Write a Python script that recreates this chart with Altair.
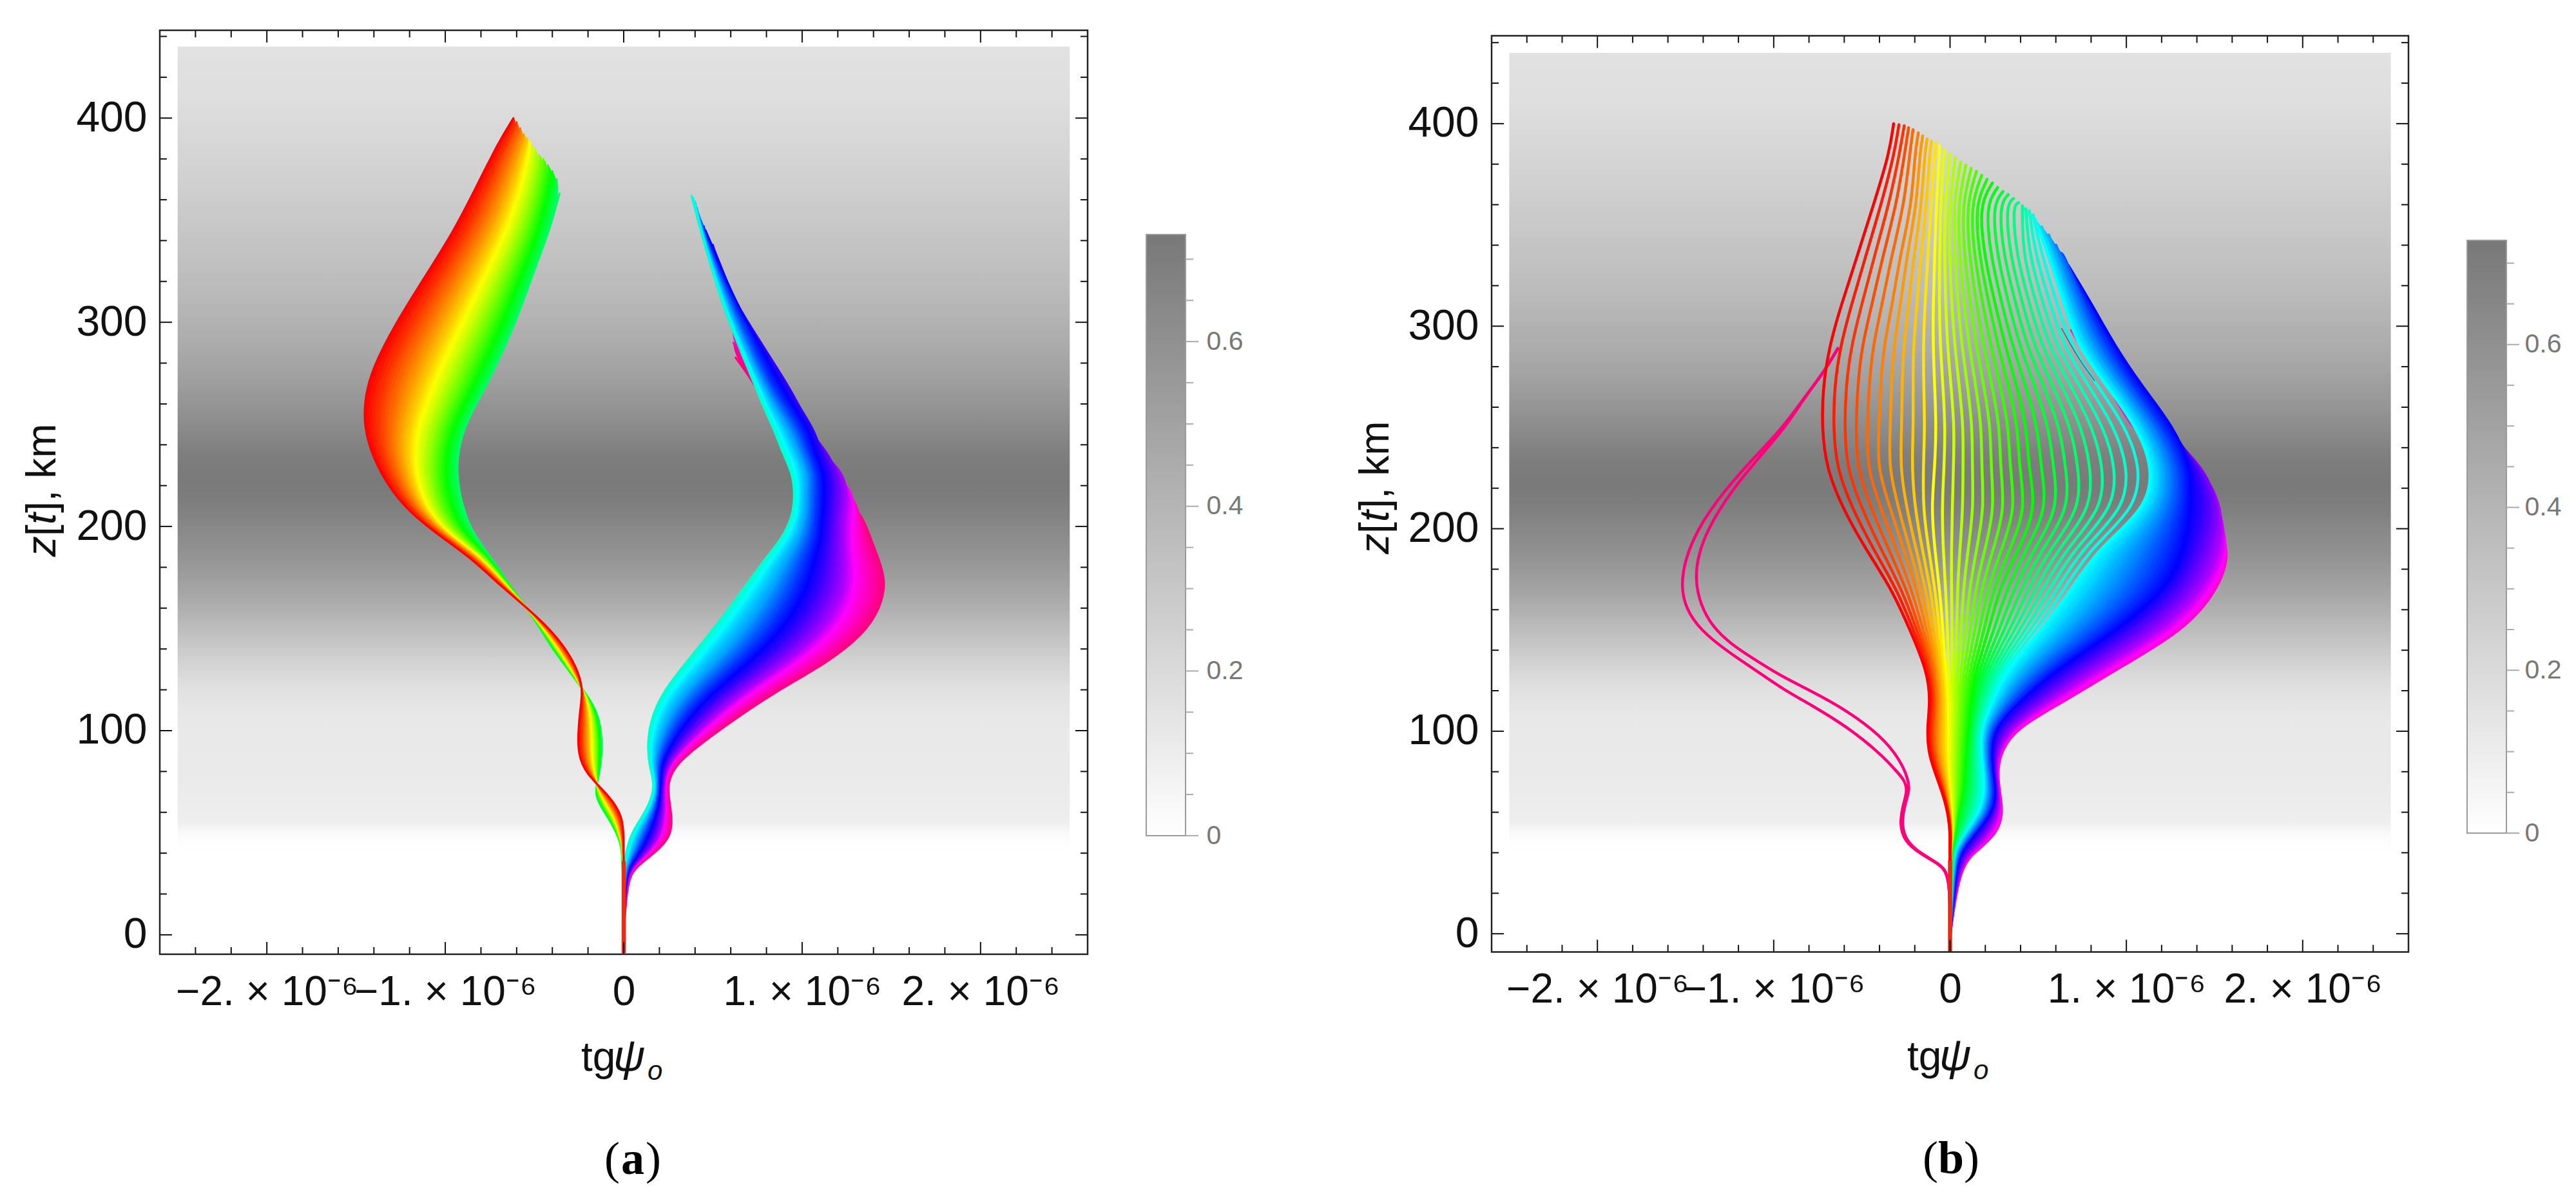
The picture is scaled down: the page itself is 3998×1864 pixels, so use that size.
import colorsys
import numpy as np
import pandas as pd
import altair as alt

# ---------- background density ----------
BG_Z = list(range(40, 435, 5))
BG_D = [.002,.01,.035,.085,.10,.105,.11,.112,.114,.115,.117,.118,.12,.127,.137,.15,.17,.195,.225,.26,
        .295,.335,.37,.405,.44,.475,.505,.535,.565,.59,.61,.63,.655,.68,.70,.715,.72,.715,.705,.685,
        .66,.635,.61,.585,.56,.535,.515,.49,.475,.455,.44,.425,.405,.395,.38,.365,.35,.34,.33,.32,
        .31,.295,.285,.275,.265,.255,.245,.235,.225,.215,.205,.195,.19,.18,.175,.17,.165,.16,.155]

# ---------- panel (a), left family: hue ascending, one row per altitude ----------
AL_HUE = [.0,.033,.067,.1,.133,.167,.2,.233,.267,.3,.333,.367,.40]
AL_Z = [0,40,47,58,68,79,89,100,110,121,131,142,155,170,185,197,210,226,242,255,268,281,301,321,345,367,388]
AL_ROWS = [
 [0]*13,
 [0,0,0,0,0,0,-.001,-.001,-.002,-.003,-.003,-.004,-.005],
 [0,-.003,-.006,-.008,-.011,-.013,-.014,-.016,-.018,-.019,-.02,-.022,-.023],
 [-.005,-.016,-.026,-.035,-.044,-.051,-.058,-.064,-.07,-.075,-.08,-.085,-.089],
 [-.077,-.089,-.101,-.111,-.121,-.129,-.137,-.144,-.15,-.156,-.162,-.167,-.172],
 [-.216,-.205,-.196,-.187,-.179,-.171,-.165,-.159,-.154,-.149,-.144,-.139,-.135],
 [-.257,-.239,-.223,-.208,-.194,-.182,-.171,-.162,-.152,-.144,-.136,-.128,-.121],
 [-.255,-.238,-.223,-.208,-.195,-.184,-.173,-.164,-.155,-.147,-.139,-.132,-.125],
 [-.245,-.233,-.221,-.21,-.201,-.192,-.185,-.178,-.171,-.165,-.16,-.154,-.149],
 [-.227,-.228,-.229,-.23,-.231,-.231,-.232,-.233,-.233,-.234,-.234,-.235,-.235],
 [-.264,-.272,-.279,-.285,-.291,-.296,-.301,-.305,-.309,-.312,-.316,-.319,-.322],
 [-.336,-.346,-.356,-.364,-.372,-.379,-.386,-.391,-.397,-.402,-.406,-.411,-.415],
 [-.47,-.474,-.478,-.481,-.484,-.487,-.489,-.491,-.493,-.495,-.497,-.499,-.50],
 [-.68,-.674,-.668,-.662,-.657,-.653,-.649,-.645,-.642,-.639,-.636,-.633,-.63],
 [-.86,-.845,-.831,-.819,-.807,-.797,-.788,-.78,-.771,-.765,-.758,-.751,-.745],
 [-1.06,-1.047,-1.035,-1.022,-1.01,-.997,-.98,-.961,-.942,-.921,-.898,-.875,-.85],
 [-1.24,-1.213,-1.186,-1.16,-1.136,-1.113,-1.086,-1.059,-1.032,-1.002,-.972,-.939,-.905],
 [-1.365,-1.323,-1.28,-1.242,-1.204,-1.17,-1.136,-1.101,-1.068,-1.038,-1.004,-.974,-.94],
 [-1.44,-1.378,-1.32,-1.268,-1.216,-1.17,-1.128,-1.086,-1.05,-1.014,-.982,-.951,-.92],
 [-1.458,-1.38,-1.308,-1.243,-1.183,-1.129,-1.081,-1.039,-.998,-.962,-.926,-.89,-.86],
 [-1.44,-1.354,-1.274,-1.201,-1.134,-1.074,-1.021,-.975,-.928,-.888,-.848,-.808,-.775],
 [-1.389,-1.3,-1.218,-1.142,-1.073,-1.012,-.957,-.909,-.861,-.82,-.778,-.737,-.703],
 [-1.268,-1.181,-1.101,-1.028,-.961,-.901,-.847,-.80,-.754,-.714,-.673,-.633,-.60],
 [-1.124,-1.045,-.973,-.907,-.846,-.792,-.743,-.701,-.659,-.623,-.586,-.55,-.52],
 [-.95,-.88,-.816,-.757,-.704,-.656,-.613,-.576,-.538,-.506,-.474,-.442,-.415],
 [-.823,-.765,-.71,-.66,-.616,-.575,-.54,-.508,-.477,-.45,-.42,-.395],
 [-.703,-.66,-.62,-.58,-.545],
]
AL_END_X = [-.618,-.60,-.58,-.56,-.54,-.523,-.50,-.475,-.45,-.425,-.40,-.375,-.36]
AL_END_Z = [400,398,395,392,390,388,385,382,380,377,374,370,363]

# ---------- panel (a), right family ----------
AR_HUE = [.47,.50,.53,.56,.60,.64,.67,.70,.74,.78,.84,.88,.92]
AR_Z = [0,28,34,41,48,55,63,73,82,91,104,118,133,147,160,173,184,194,205,215,226,236,247,257,268,283,297,310,331,345]
AR_ROWS = [
 [0]*13,
 [0,.001,.002,.004,.005,.007,.008,.01,.012,.014,.016,.018,.02],
 [0,.004,.01,.016,.022,.03,.036,.042,.05,.057,.064,.072,.08],
 [.015,.025,.036,.05,.063,.079,.093,.107,.122,.138,.153,.171,.188],
 [.035,.049,.062,.08,.098,.118,.136,.154,.175,.195,.215,.238,.26],
 [.08,.091,.103,.118,.133,.151,.166,.181,.198,.216,.233,.252,.271],
 [.14,.147,.155,.164,.174,.185,.195,.205,.216,.227,.238,.25,.262],
 [.176,.18,.184,.189,.194,.2,.206,.211,.217,.223,.229,.235,.242],
 [.145,.153,.161,.172,.183,.195,.206,.217,.229,.241,.253,.267,.28],
 [.132,.148,.163,.184,.205,.229,.249,.27,.294,.317,.341,.367,.393],
 [.145,.172,.199,.235,.271,.312,.348,.384,.425,.465,.506,.551,.596],
 [.21,.247,.284,.334,.384,.439,.489,.539,.594,.65,.706,.768,.83],
 [.345,.393,.44,.504,.567,.638,.702,.765,.837,.908,.979,1.059,1.138],
 [.476,.528,.58,.649,.719,.797,.866,.936,1.014,1.092,1.17,1.256,1.343],
 [.59,.641,.692,.76,.828,.905,.973,1.041,1.117,1.194,1.27,1.355,1.44],
 [.70,.746,.791,.852,.913,.981,1.042,1.103,1.171,1.24,1.308,1.384,1.47],
 [.789,.827,.865,.915,.966,1.022,1.073,1.123,1.18,1.237,1.294,1.357,1.43],
 [.886,.915,.945,.984,1.023,1.067,1.106,1.145,1.189,1.233,1.277,1.33,1.385],
 [.946,.968,.99,1.019,1.048,1.081,1.115,1.15,1.19,1.235,1.29,1.325,1.34],
 [.958,.975,.995,1.02,1.05,1.085,1.125,1.165,1.21,1.255,1.295,1.29,1.24],
 [.946,.97,1.0,1.03,1.06,1.09,1.125,1.16,1.2,1.235,1.2,1.12,1.05],
 [.89,.92,.95,.98,1.01,1.04,1.075,1.11,1.145,1.12,1.06,.99,.93],
 [.845,.87,.895,.93,.965,1.0,1.04,1.07,1.04,.98,.93,.88,.85],
 [.79,.81,.83,.86,.89,.93,.97,.995,.96,.92,.87,.83,.79],
 [.74,.755,.77,.79,.815,.845,.89,.93,.90,.87,.83,.79,.75],
 [.668,.68,.69,.71,.73,.76,.80,.82,.79,.76,.72,.675],
 [.606,.615,.625,.64,.66,.69,.71,.72,.70,.65,.612],
 [.549,.556,.565,.578,.595,.612,.63,.625,.622],
 [.476,.48,.485,.492,.50,.51,.524,.52],
 [.43,.432,.436,.44,.445,.45],
]
AR_END_X = [.38,.39,.40,.41,.42,.45,.459,.50,.62,.63,.61,.615,.627]
AR_END_Z = [362,361,359,356,353,347,345,338,312,305,297.5,290,282.7]

# ---------- panel (b) fan ----------
B_HUE = [.0,.017,.033,.05,.067,.083,.1,.117,.133,.15,.167,.183,.2,.217,.233,.25,.267,.283,.3,.317,.333,
         .35,.367,.383,.4,.417,.433,.45,.467,.483,
         .5,.528,.556,.584,.612,.64,.668,.696,.724,.752,.78,.808,.836,.864]
B_Z = [0,34,42,50,60,70,80,90,102,115,130,150,170,190,210,230,250,270,290,310,335,360,385]
B_ROWS = [
 [0]*44,
 [0]*20+[.005,.005,.006,.006,.007,.007,.008,.008,.009,.009,.01,.013,.017,.02,.023,.027,.03,.034,.038,.041,.045,.048,.05,.053],
 [0,0,0,0,0,0,0,0,0,0,0,.001,.001,.002,.002,.003,.003,.004,.004,.005,.005,.007,.009,.011,.013,.015,.017,.019,.021,.023,
  .025,.033,.041,.049,.056,.064,.072,.088,.105,.121,.137,.146,.156,.165],
 [.001,.002,.003,.004,.005,.005,.006,.007,.008,.009,.01,.012,.013,.015,.016,.018,.019,.021,.022,.024,.025,.031,.036,.042,.047,.053,.059,.064,.07,.075,
  .081,.092,.103,.114,.124,.135,.146,.165,.184,.202,.221,.237,.252,.268],
 [-.012,-.011,-.01,-.009,-.008,-.007,-.004,-.002,.001,.003,.006,.01,.014,.017,.021,.025,.029,.033,.036,.04,.044,.056,.068,.08,.092,.105,.117,.129,.141,.153,
  .165,.177,.19,.202,.214,.227,.239,.249,.258,.268,.277,.285,.292,.30],
 [-.044,-.041,-.037,-.034,-.03,-.027,-.022,-.017,-.013,-.008,-.003,.005,.012,.02,.027,.035,.042,.05,.057,.065,.072,.084,.096,.108,.12,.133,.145,.157,.169,.181,
  .193,.204,.215,.225,.236,.247,.258,.262,.265,.269,.273,.275,.278,.28],
 [-.087,-.08,-.073,-.067,-.06,-.053,-.045,-.037,-.028,-.02,-.012,-.003,.007,.016,.025,.035,.044,.053,.062,.072,.081,.092,.102,.113,.123,.134,.145,.155,.166,.176,
  .187,.196,.204,.213,.222,.23,.239,.244,.249,.253,.258,.261,.265,.268],
 [-.124,-.115,-.106,-.096,-.087,-.078,-.065,-.052,-.038,-.025,-.012,-.002,.008,.019,.029,.039,.049,.059,.07,.08,.09,.098,.107,.115,.124,.132,.14,.149,.157,.166,
  .174,.183,.193,.202,.211,.221,.23,.24,.249,.259,.268,.274,.28,.286],
 [-.13,-.12,-.109,-.099,-.088,-.078,-.065,-.052,-.038,-.025,-.012,0,.011,.022,.033,.044,.056,.067,.078,.089,.10,.107,.115,.122,.13,.137,.144,.152,.159,.167,
  .174,.187,.199,.212,.224,.237,.249,.272,.296,.319,.342,.354,.367,.379],
 [-.111,-.102,-.094,-.085,-.077,-.068,-.057,-.046,-.034,-.023,-.012,.001,.014,.027,.04,.053,.066,.079,.092,.105,.118,.13,.142,.154,.166,.179,.191,.203,.215,.227,
  .239,.266,.292,.319,.345,.372,.398,.438,.478,.517,.557,.588,.619,.65],
 [-.13,-.121,-.111,-.102,-.092,-.083,-.072,-.061,-.049,-.038,-.027,-.01,.008,.025,.042,.06,.077,.094,.112,.129,.146,.163,.18,.196,.213,.23,.247,.264,.28,.297,
  .314,.361,.407,.454,.501,.547,.594,.65,.706,.762,.818,.855,.893,.93],
 [-.227,-.208,-.189,-.171,-.152,-.133,-.114,-.096,-.077,-.059,-.04,-.014,.012,.038,.064,.09,.117,.143,.169,.195,.221,.251,.281,.311,.341,.37,.4,.43,.46,.49,
  .52,.591,.663,.734,.805,.877,.948,1.014,1.079,1.145,1.21,1.25,1.291,1.331],
 [-.329,-.301,-.273,-.246,-.218,-.19,-.164,-.138,-.111,-.085,-.059,-.025,.008,.042,.075,.109,.143,.176,.21,.243,.277,.318,.359,.4,.441,.482,.523,.564,.605,.646,
  .687,.777,.867,.958,1.048,1.138,1.228,1.279,1.33,1.382,1.433,1.461,1.489,1.52],
 [-.479,-.436,-.393,-.35,-.307,-.264,-.229,-.193,-.158,-.122,-.087,-.039,.008,.056,.103,.151,.199,.246,.294,.341,.389,.434,.479,.524,.568,.613,.658,.703,.747,.792,
  .837,.919,1.002,1.084,1.166,1.249,1.331,1.38,1.429,1.48,1.53,1.565,1.59,1.60],
 [-.609,-.555,-.501,-.447,-.393,-.339,-.292,-.246,-.199,-.153,-.106,-.046,.013,.073,.133,.193,.252,.312,.372,.431,.491,.553,.616,.678,.741,.803,.866,.928,.991,1.053,
  1.116,1.156,1.197,1.237,1.278,1.318,1.365,1.44,1.49,1.53,1.55,1.54,1.51,1.46],
 [-.702,-.644,-.586,-.529,-.471,-.413,-.348,-.283,-.217,-.152,-.087,-.034,.019,.073,.126,.179,.232,.285,.339,.392,.445,.516,.587,.657,.728,.799,.87,.941,1.011,1.082,
  1.153,1.189,1.225,1.261,1.296,1.332,1.368,1.40,1.425,1.445,1.43,1.39,1.33,1.27],
 [-.727,-.662,-.598,-.533,-.469,-.404,-.339,-.274,-.208,-.143,-.078,-.027,.025,.076,.127,.179,.23,.282,.333,.385,.436,.498,.561,.623,.686,.748,.81,.873,.935,.998,
  1.06,1.093,1.125,1.158,1.191,1.223,1.27,1.25,1.225,1.20,1.172,1.12,1.07,1.023],
 [-.721,-.656,-.591,-.525,-.46,-.395,-.333,-.272,-.21,-.149,-.087,-.04,.006,.053,.1,.147,.193,.24,.287,.333,.38,.431,.483,.534,.585,.637,.688,.739,.79,.842,
  .893,.924,.955,.986,1.017,1.048,1.09,1.05,1.02,.995,.967,.95,.93,.91],
 [-.685,-.623,-.561,-.5,-.438,-.376,-.32,-.264,-.208,-.152,-.096,-.055,-.014,.027,.068,.109,.15,.191,.232,.273,.314,.355,.396,.437,.478,.52,.561,.602,.643,.684,
  .725,.76,.795,.83,.865,.90,.935,.91,.88,.85,.81,.78,.76,.74],
 [-.619,-.561,-.503,-.445,-.387,-.329,-.282,-.236,-.189,-.143,-.096,-.061,-.025,.01,.046,.081,.116,.152,.187,.223,.258,.297,.336,.376,.415,.454,.493,.532,.572,.611,
  .65,.677,.703,.73,.756,.783,.809,.78,.75,.72],
 [-.525,-.477,-.428,-.38,-.331,-.283,-.244,-.205,-.165,-.126,-.087,-.059,-.031,-.003,.025,.053,.081,.109,.137,.165,.193,.229,.266,.302,.339,.375,.411,.448,.484,.521,
  .557,.58,.603,.626,.648],
 [-.434,-.391,-.347,-.304,-.26,-.217,-.189,-.161,-.134,-.106,-.078,-.054,-.03,-.005,.019,.044,.068,.092,.116,.141,.165,.202,.24,.278,.316,.355],
 [-.345,-.316,-.287,-.258,-.229,-.20,-.172,-.144,-.116,-.088,-.059,-.035],
]
B_END_X = [-.32,-.29,-.26,-.235,-.21,-.18,-.155,-.13,-.105,-.08,-.059,-.03,0,.03,.06,.09,.12,.15,.18,.21,.24,
           .27,.30,.33,.36,.39,.41,.43,.45,.47,.482,.52,.56,.60,.63,.65,.67,.70,.72,.72,.70,.70,.695,.69]
B_END_Z = [400,399.5,399,398,397,395.5,394,392.5,391.5,390.5,389,387,385,383,381,379.5,378,376.5,374.5,372.5,370.7,
           368.5,366.5,365,363,361,359.5,358,357,355,353,349,345,340,336,333,330,325,318,312,308,304,301,298]

# the two pink rays of panel (b)
PINK_HUE = .92
P1_Z = [0,29,34.3,39.5,45.9,53.8,62.9,70.7,76,80,89,102,112,121,130,150,171,200,226,249,263,278,289]
P1_X = [0,0,-.059,-.171,-.26,-.285,-.27,-.24,-.26,-.301,-.395,-.581,-.767,-.954,-1.098,-1.447,-1.553,-1.447,-1.214,-.954,-.842,-.71,-.637]
P2_Z = [0,29,34.3,39.5,45.9,53.8,62.9,70.7,76,86,98,110,119,127,136,150,175,200,226,249,263,278,289]
P2_X = [0,0,-.055,-.165,-.25,-.275,-.26,-.23,-.236,-.283,-.395,-.581,-.767,-.954,-1.12,-1.363,-1.47,-1.386,-1.18,-.94,-.84,-.71,-.637]

# the thin dark ray seen inside panel (b)
FAINT_Z = [273,285,299]
FAINT_X = [.82,.72,.632]

# the shared red stem at the bottom of each panel
STEM_Z = [-9,36]
STEM_X = [0,0]

# axis ticks
X_MAJOR = [-2,-1,0,1,2]
X_MINOR = [-2.4,-2.2,-1.8,-1.6,-1.4,-1.2,-.8,-.6,-.4,-.2,.2,.4,.6,.8,1.2,1.4,1.6,1.8,2.2,2.4]
Y_MAJOR = [0,100,200,300,400]
Y_MINOR = [20,40,60,80,120,140,160,180,220,240,260,280,320,340,360,380,420,440]
CB_MAJOR = [0,.2,.4,.6]
CB_MINOR = [.05,.1,.15,.25,.3,.35,.45,.5,.55,.65,.7]

FONT = "Liberation Sans"
SERIF = "Liberation Serif"
CURVE = "basis"
SHADES = 4  # colour steps of the fill between two neighbouring curves


def hex_of(h):
    r, g, b = colorsys.hsv_to_rgb(h, 1, 1)
    return "#%02x%02x%02x" % (round(r * 255), round(g * 255), round(b * 255))


def gray_of(d):
    g = round(255 - d / .73 * (255 - 120))
    return "#%02x%02x%02x" % (g, g, g)


def family(levels, rows, hues, end_x, end_z, tag):
    out = []
    for i, h in enumerate(hues):
        zs = [z for z, r in zip(levels, rows) if len(r) > i]
        xs = [r[i] for r in rows if len(r) > i]
        zs.append(end_z[i])
        xs.append(end_x[i])
        out.append((f"{tag}{i}", h, zs, xs))
    return out


def line_frame(curves):
    recs = []
    for name, h, zs, xs in curves:
        for p, (z, x) in enumerate(zip(zs, xs)):
            recs.append({"curve": name, "c": hex_of(h), "z": z, "x": x, "p": p})
    return pd.DataFrame(recs)


def band_frame(c0, c1):
    """colour shading of the gap between two neighbouring curves"""
    n0, h0, z0, x0 = c0
    n1, h1, z1, x1 = c1
    low, high = min(z0[-1], z1[-1]), max(z0[-1], z1[-1])
    zs = [z for z in sorted(set(z0) | set(z1)) if z <= low]
    a = list(np.interp(zs, z0, x0))
    b = list(np.interp(zs, z1, x1))
    if high > low:  # taper to the end of the longer curve
        tip = x0[-1] if z0[-1] > z1[-1] else x1[-1]
        zs.append(high)
        a.append(tip)
        b.append(tip)
    recs = []
    for k in range(SHADES):
        t0, t1 = k / SHADES, (k + 1) / SHADES
        col = hex_of(h0 + (h1 - h0) * (t0 + t1) / 2)
        for z, u, v in zip(zs, a, b):
            recs.append({"curve": f"{n0}-{k}", "c": col, "z": z,
                         "x": float(u + (v - u) * t0), "x1": float(u + (v - u) * t1)})
    return pd.DataFrame(recs)


def txt(label, x, y, size, font=FONT, style="normal", weight="normal", align="left", angle=0, color="#111111"):
    return alt.Chart(pd.DataFrame({"t": [label]})).mark_text(
        font=font, fontSize=size, fontStyle=style, fontWeight=weight, align=align,
        baseline="alphabetic", angle=angle, color=color,
    ).encode(text="t:N", x=alt.value(x), y=alt.value(y))


def panel(W, H, top, ydom, groups, sw, pieces, overlay=None):
    xs = alt.Scale(domain=[-2.6, 2.6], nice=False, zero=False)
    ys = alt.Scale(domain=ydom, nice=False, zero=False, range=[H + top, top])
    ax_x = alt.Axis(values=X_MAJOR, tickSize=0, domain=False, grid=False, labelFont=FONT, labelFontSize=64,
                    labelColor="#111111", labelPadding=27, labelOverlap=False, labelFlush=False, labelLimit=600,
                    labelExpr="datum.value==0 ? '0' : (datum.value<0 ? '\u2212' : '') + abs(datum.value) + '. \u00d7 10\u207b\u2076'")
    ax_y = alt.Axis(values=Y_MAJOR, tickSize=0, domain=False, grid=False, labelFont=FONT, labelFontSize=66,
                    labelColor="#111111", labelPadding=20, labelOverlap=False, labelFlush=False)
    X = alt.X("x:Q", scale=xs, title=None, axis=ax_x, stack=None)
    Y = alt.Y("z:Q", scale=ys, title=None, axis=ax_y, stack=None)
    grad = alt.Gradient(gradient="linear", x1=0, x2=0, y1=1, y2=0, stops=[
        alt.GradientStop(color=gray_of(d), offset=(z - BG_Z[0]) / (BG_Z[-1] - BG_Z[0]))
        for z, d in zip(BG_Z, BG_D)])
    bg = pd.DataFrame({"z": [BG_Z[0]], "z1": [435], "x": [-2.5], "x1": [2.5]})
    layers = [alt.Chart(bg).mark_rect(color=grad).encode(x=X, x2="x1:Q", y=Y, y2="z1:Q")]

    def line_layer(df):
        return alt.Chart(df).mark_line(interpolate=CURVE, strokeWidth=sw, strokeCap="round").encode(
            x=X, y=Y, stroke=alt.Stroke("c:N", scale=None), detail="curve:N", order="p:Q")

    for curves, shaded in groups:
        if shaded:
            for i, c in enumerate(curves):
                layers.append(line_layer(line_frame([c])))
                if i + 1 < len(curves):
                    layers.append(alt.Chart(band_frame(c, curves[i + 1])).mark_area(
                        orient="horizontal", interpolate=CURVE, strokeWidth=1).encode(
                        y=Y, x=X, x2="x1:Q", fill=alt.Fill("c:N", scale=None),
                        stroke=alt.Stroke("c:N", scale=None), detail="curve:N"))
        else:
            layers.append(line_layer(line_frame(curves)))
    stem = pd.DataFrame({"x": STEM_X, "z": STEM_Z})
    layers.append(alt.Chart(stem).mark_line(color="#ee2a12", strokeWidth=6.5, strokeCap="butt").encode(x=X, y=Y))
    if overlay is not None:
        layers.append(alt.Chart(overlay).mark_line(color="#55608f", strokeWidth=1.6, interpolate=CURVE).encode(
            x=X, y=Y, order="p:Q"))
    for vals, L in ((X_MAJOR, 19), (X_MINOR, 11)):
        d = pd.DataFrame({"x": vals})
        layers.append(alt.Chart(d).mark_rule(color="#111111", strokeWidth=2).encode(x=X, y=alt.value(H + top), y2=alt.value(H + top - L)))
        layers.append(alt.Chart(d).mark_rule(color="#111111", strokeWidth=2).encode(x=X, y=alt.value(top), y2=alt.value(top + L)))
    for vals, L in ((Y_MAJOR, 19), (Y_MINOR, 11)):
        d = pd.DataFrame({"z": vals})
        layers.append(alt.Chart(d).mark_rule(color="#111111", strokeWidth=2).encode(y=Y, x=alt.value(0), x2=alt.value(L)))
        layers.append(alt.Chart(d).mark_rule(color="#111111", strokeWidth=2).encode(y=Y, x=alt.value(W), x2=alt.value(W - L)))
    frame = alt.Chart(pd.DataFrame({"a": [0]})).mark_rect(fillOpacity=0, stroke="#222222", strokeWidth=2.5).encode(
        x=alt.value(0), x2=alt.value(W), y=alt.value(top), y2=alt.value(H + top))
    layers.append(frame)
    layers += pieces
    return alt.layer(*layers).properties(
        width=W, height=H + top, view=alt.ViewBackground(stroke="transparent"))


def colorbar(Hb, top_gap, lab_pad, dom_hi):
    ys = alt.Scale(domain=[0, dom_hi], nice=False, zero=False, range=[Hb + top_gap, top_gap])
    ax = alt.Axis(orient="right", values=CB_MAJOR, tickSize=0, domain=False, grid=False, labelFont=FONT,
                  labelFontSize=41, labelColor="#777777", labelPadding=lab_pad, labelOverlap=False,
                  labelFlush=False, format="~g")
    grad = alt.Gradient(gradient="linear", x1=0, x2=0, y1=1, y2=0,
                        stops=[alt.GradientStop(color="#ffffff", offset=0), alt.GradientStop(color="#787878", offset=1)])
    Y = alt.Y("v:Q", scale=ys, title=None, axis=ax)
    rect = alt.Chart(pd.DataFrame({"v": [0], "hi": [dom_hi]})).mark_rect(fill=grad, stroke="#9a9a9a", strokeWidth=2).encode(
        x=alt.value(0), x2=alt.value(61), y=Y, y2="hi:Q")
    t1 = alt.Chart(pd.DataFrame({"v": CB_MAJOR})).mark_rule(color="#aaaaaa", strokeWidth=2).encode(
        y=Y, x=alt.value(61), x2=alt.value(81))
    t2 = alt.Chart(pd.DataFrame({"v": CB_MINOR})).mark_rule(color="#aaaaaa", strokeWidth=2).encode(
        y=Y, x=alt.value(61), x2=alt.value(73))
    return alt.layer(rect, t1, t2).properties(
        width=61, height=Hb + top_gap, view=alt.ViewBackground(stroke="transparent"))


def annotations(H, top, ytitle_x, ytitle_y, tg_x, base, cap_x, cap_y, letter):
    return [
        txt("z", ytitle_x, ytitle_y, 64, style="italic", angle=270),
        txt("[", ytitle_x, ytitle_y - 32, 64, angle=270),
        txt("t", ytitle_x, ytitle_y - 50, 64, style="italic", angle=270),
        txt("], km", ytitle_x, ytitle_y - 68, 64, angle=270),
        txt("tg", tg_x, H + top + base, 64),
        txt("\u03c8", tg_x + 50, H + top + base, 68, style="italic"),
        txt("o", tg_x + 103, H + top + base + 14, 42, style="italic"),
        txt("(", cap_x - 20, cap_y, 72, font=SERIF, align="right", color="#000000"),
        txt(letter, cap_x, cap_y, 72, font=SERIF, weight="bold", align="center", color="#000000"),
        txt(")", cap_x + 20, cap_y, 72, font=SERIF, align="left", color="#000000"),
    ]


al = family(AL_Z, AL_ROWS, AL_HUE, AL_END_X, AL_END_Z, "L")
ar = family(AR_Z, AR_ROWS, AR_HUE, AR_END_X, AR_END_Z, "R")
b = family(B_Z, B_ROWS, B_HUE, B_END_X, B_END_Z, "B")
pink = [("P1", PINK_HUE, P1_Z, P1_X), ("P2", PINK_HUE, P2_Z, P2_X)]

faint = pd.DataFrame({"x": FAINT_X, "z": FAINT_Z, "p": list(range(len(FAINT_Z)))})

pa = panel(1440, 1434, 0, [-9.5, 443],
           [(list(reversed(ar)), True), (list(reversed(al)), True)], 3,
           annotations(1434, 0, -162, 817, 654, 181, 734, 1775, "a"))
pb = panel(1423, 1422, 8.5, [-9, 443.4],
           [(pink, False), (list(reversed(b[30:])), True), (list(reversed(b[:30])), False)], 4.5,
           annotations(1422, 8.5, -160, 813, 645, 183, 713, 1774, "b"), overlay=faint)
ca = colorbar(933, 317, 32, .73)
cb = colorbar(920, 326, 28, .728)

chart = alt.hconcat(
    alt.hconcat(pa, ca, spacing=87),
    alt.hconcat(pb, cb, spacing=87),
    spacing=173,
).properties(padding={"left": 26, "top": 37, "right": 0, "bottom": 0}).configure(background="white")

chart.save("out.html", embed_options={"renderer": "svg", "actions": False})
